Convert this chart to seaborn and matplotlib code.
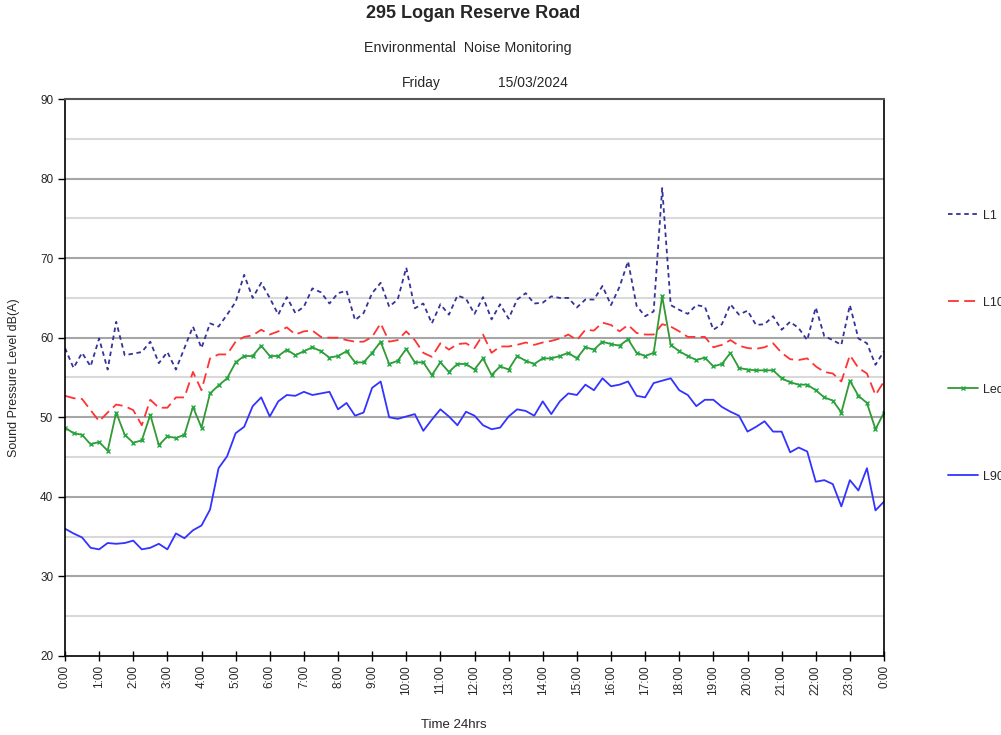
import numpy as np
import pandas as pd
import matplotlib.pyplot as plt
import seaborn as sns

# 15-minute intervals across the day (0:00 -> next 0:00)
hours = [i / 4 for i in range(97)]

L1 = [58.7, 56.2, 58.1, 56.4, 59.9, 56.0, 62.0, 57.8, 58.0, 58.2, 59.5, 56.8, 58.2, 56.0, 58.7,
      61.4, 58.7, 61.8, 61.4, 62.9, 64.5, 67.9, 65.0, 66.9, 65.0,
      62.9, 65.1, 63.1, 63.9, 66.2, 65.7, 64.3, 65.6, 65.9, 62.2, 63.1, 65.6, 66.9, 63.9, 64.8,
      68.8, 63.7, 64.3, 61.8, 64.2, 62.9, 65.3, 64.9, 63.0,
      65.1, 62.3, 64.2, 62.4, 64.8, 65.6, 64.3, 64.4, 65.2, 65.0, 65.0, 63.8, 64.8, 64.8, 66.5,
      64.1, 66.4, 69.6, 64.0, 62.7, 63.3, 78.8, 64.1,
      63.5, 63.0, 64.1, 63.9, 61.0, 61.7, 64.2, 62.9, 63.4, 61.6, 61.7, 62.7, 61.0, 62.0, 61.2,
      59.7, 63.8, 60.2, 59.7, 59.1, 64.1, 59.9, 59.3, 56.6, 58.3]

L10 = [52.7, 52.4, 52.3, 50.9, 49.5, 50.6, 51.6, 51.4, 50.9, 49.0, 52.2, 51.2, 51.2, 52.5, 52.5,
       55.7, 53.4, 57.4, 57.9, 57.9, 59.5, 60.1, 60.3,
       61.0, 60.4, 60.8, 61.3, 60.4, 60.8, 60.9, 60.1, 60.0, 60.0, 59.7, 59.5, 59.5, 60.1, 61.8,
       59.5, 59.7, 60.8, 59.7, 58.1, 57.6, 59.3, 58.5, 59.2, 59.3, 58.7,
       60.4, 58.1, 58.9, 58.9, 59.1, 59.4, 59.1, 59.4, 59.6, 59.9, 60.4, 59.7, 61.0, 60.9, 61.9,
       61.6, 60.8, 61.6, 60.6, 60.4, 60.4,
       61.7, 61.4, 60.8, 60.1, 60.1, 60.1, 58.8, 59.1, 59.7, 59.0, 58.7, 58.6, 58.8, 59.3, 58.1,
       57.3, 57.2, 57.4, 56.4, 55.7, 55.5, 54.5, 57.8, 56.2, 55.5, 52.8, 54.5]

Leq = [48.7, 48.0, 47.8, 46.6, 46.9, 45.8, 50.6, 47.8, 46.8, 47.1, 50.3, 46.5, 47.6, 47.4, 47.8,
       51.3, 48.7, 53.0, 54.0, 54.9, 56.9, 57.7, 57.7, 59.0, 57.7,
       57.7, 58.5, 57.8, 58.3, 58.8, 58.3, 57.5, 57.7, 58.3, 56.9, 56.9, 58.1, 59.5, 56.7, 57.1,
       58.6, 56.9, 56.9, 55.3, 56.9, 55.7, 56.7, 56.7, 56.0,
       57.4, 55.3, 56.4, 56.0, 57.7, 57.1, 56.7, 57.4, 57.4, 57.7, 58.1, 57.4, 58.8, 58.5, 59.5,
       59.2, 59.0, 59.8, 58.1, 57.7, 58.1, 65.2, 59.1,
       58.3, 57.7, 57.2, 57.5, 56.4, 56.7, 58.1, 56.2, 56.0, 55.9, 55.9, 55.9, 54.9, 54.4, 54.1,
       54.1, 53.4, 52.5, 52.1, 50.6, 54.6, 52.7, 51.8, 48.5, 50.6]

L90 = [36.0, 35.4, 34.9, 33.6, 33.4, 34.2, 34.1, 34.2, 34.5, 33.4, 33.6, 34.1, 33.4, 35.4, 34.8,
       35.8, 36.4, 38.4, 43.6, 45.1, 48.0, 48.8, 51.4, 52.5, 50.1,
       52.0, 52.8, 52.7, 53.2, 52.8, 53.0, 53.2, 51.0, 51.8, 50.2, 50.6, 53.7, 54.5, 50.0, 49.8,
       50.1, 50.4, 48.3, 49.7, 51.0, 50.1, 49.0, 50.7, 50.2,
       49.0, 48.5, 48.7, 50.1, 51.0, 50.8, 50.2, 52.0, 50.4, 52.0, 53.0, 52.8, 54.1, 53.4, 54.9,
       53.9, 54.1, 54.5, 52.7, 52.5, 54.3, 54.6, 54.9,
       53.4, 52.8, 51.4, 52.2, 52.2, 51.3, 50.7, 50.2, 48.2, 48.8, 49.5, 48.2, 48.2, 45.6, 46.2,
       45.7, 41.9, 42.1, 41.6, 38.8, 42.1, 40.8, 43.6, 38.3, 39.4]

hour_labels = [f"{h % 24}:00" for h in range(25)]

df = pd.DataFrame({'Time': hours, 'L1': L1, 'L10': L10, 'Leq': Leq, 'L90': L90})

sns.set_style('white')
plt.rcParams['font.family'] = ['Liberation Sans', 'DejaVu Sans']

fig = plt.figure(figsize=(10.01, 7.35), dpi=100)
ax = fig.add_axes([65 / 1001, 1 - 656 / 735, (884 - 65) / 1001, (656 - 99) / 735])

# gridlines: darker at 10 dB, lighter at 5 dB
for v in range(25, 90, 10):
    ax.axhline(v, color='#d9d9d9', lw=1.5, zorder=0)
for v in range(30, 90, 10):
    ax.axhline(v, color='#a6a6a6', lw=1.5, zorder=0)

sns.lineplot(data=df, x='Time', y='L1', ax=ax, color='#333399', lw=1.3,
             linestyle=(0, (2.5, 2)), label='L1')
sns.lineplot(data=df, x='Time', y='L10', ax=ax, color='#ff3333', lw=1.3,
             linestyle=(0, (6, 3)), label='L10')
sns.lineplot(data=df, x='Time', y='Leq', ax=ax, color='#339933', lw=1.3,
             marker='x', markersize=3.5, markeredgewidth=1.0, markeredgecolor='#22aa44',
             label='Leq')
sns.lineplot(data=df, x='Time', y='L90', ax=ax, color='#3333ff', lw=1.3, label='L90')

ax.set_xlim(0, 24)
ax.set_ylim(20, 90)
ax.set_xticks(range(25))
ax.set_xticklabels(hour_labels, rotation=90, fontsize=8.5)
ax.set_xticks([h + 0.5 for h in range(24)], minor=True)
ax.set_yticks(range(20, 91, 10))
ax.set_yticklabels([str(v) for v in range(20, 91, 10)], fontsize=8.5)
ax.tick_params(axis='x', which='major', direction='inout', length=7, width=1, color='black', pad=3)
ax.tick_params(axis='x', which='minor', direction='inout', length=4, width=1, color='black')
ax.tick_params(axis='y', which='major', direction='out', length=5, width=1, color='black', left=True)
ax.tick_params(axis='x', bottom=True)

for s in ['left', 'bottom', 'right']:
    ax.spines[s].set_color('black')
    ax.spines[s].set_linewidth(1.2)
ax.spines['top'].set_color('#555555')
ax.spines['top'].set_linewidth(1.5)

ax.set_xlabel('Time 24hrs', fontsize=9.5)
ax.xaxis.set_label_coords(0.475, -0.113)
ax.set_ylabel('Sound Pressure Level dB(A)', fontsize=9, labelpad=14)

ax.legend(loc='upper left', bbox_to_anchor=(1.072, 0.81), frameon=False, fontsize=9,
          handlelength=2.4, handletextpad=0.4, labelspacing=6.0, borderaxespad=0)

fig.text(0.4725, 0.982, '295 Logan Reserve Road', ha='center', va='center',
         fontsize=13, fontweight='bold')
fig.text(0.4675, 0.935, 'Environmental  Noise Monitoring', ha='center', va='center', fontsize=10.3)
fig.text(0.4205, 0.887, 'Friday', ha='center', va='center', fontsize=10)
fig.text(0.5325, 0.887, '15/03/2024', ha='center', va='center', fontsize=10)

fig.savefig('out.png', dpi=100)
